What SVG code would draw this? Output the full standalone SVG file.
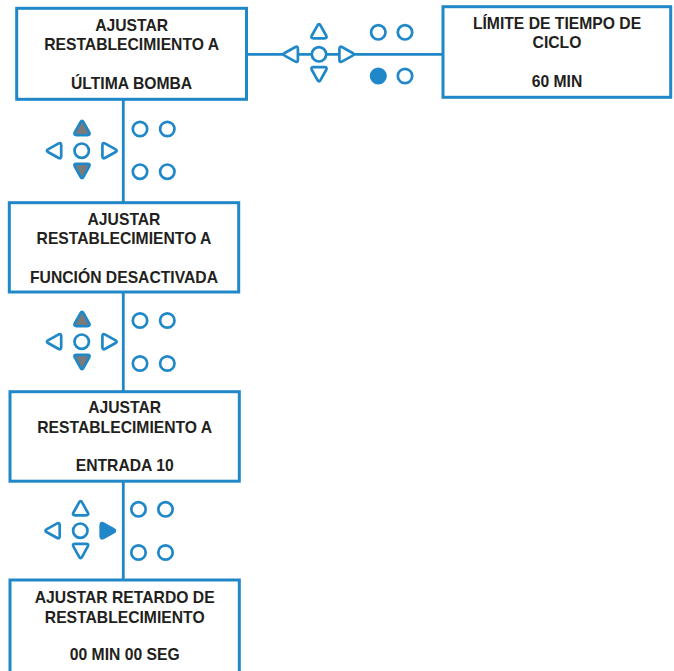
<svg xmlns="http://www.w3.org/2000/svg" xmlns:xlink="http://www.w3.org/1999/xlink" width="674" height="671" viewBox="0 0 674 671">
<style>
.box{fill:#fff;stroke:#2088c8;stroke-width:3}
.ln{stroke:#2088c8;stroke-width:2.8;fill:none}
.k{fill:#fff;stroke:#2088c8;stroke-width:2.7}
.kg{fill:#7a7a7a;stroke:#2088c8;stroke-width:2.7}
.kb{fill:#2088c8;stroke:#2088c8;stroke-width:2.7}
text{font-family:"Liberation Sans",Arial,sans-serif;font-weight:bold;font-size:15.7px;fill:#231f20;text-anchor:middle}
</style>
<defs>
<path id="tri" d="M1.6,-4.9 L7.1,5.0 Q8.7,7.9 5.4,7.9 L-5.4,7.9 Q-8.7,7.9 -7.1,5.0 L-1.6,-4.9 Q0,-7.9 1.6,-4.9Z"/>
</defs>
<g id="connectors">
<line class="ln" x1="246" y1="54.3" x2="443" y2="54.3"/>
<line class="ln" x1="123.3" y1="99" x2="123.3" y2="203"/>
<line class="ln" x1="123.3" y1="292" x2="123.3" y2="392"/>
<line class="ln" x1="123.3" y1="481" x2="123.3" y2="580"/>
</g>
<g id="keypad-top">
<use xlink:href="#tri" class="k" transform="translate(319,30.5)"/>
<use xlink:href="#tri" class="k" transform="translate(319,75) rotate(180)"/>
<use xlink:href="#tri" class="k" transform="translate(290,54.3) rotate(-90)"/>
<use xlink:href="#tri" class="k" transform="translate(347.3,54.3) rotate(90)"/>
<circle class="k" cx="319" cy="54.3" r="7.2"/>
<circle class="k" cx="378.3" cy="32.3" r="7.2"/>
<circle class="k" cx="405" cy="32.3" r="7.2"/>
<circle class="kb" cx="378.3" cy="76" r="7.2"/>
<circle class="k" cx="405" cy="76" r="7.2"/>
</g>
<g id="keypad-1">
<use xlink:href="#tri" class="kg" transform="translate(82,127.2)"/>
<use xlink:href="#tri" class="kg" transform="translate(82,171.7) rotate(180)"/>
<use xlink:href="#tri" class="k" transform="translate(53.3,150.7) rotate(-90)"/>
<use xlink:href="#tri" class="k" transform="translate(110.3,150.7) rotate(90)"/>
<circle class="k" cx="81.7" cy="150.7" r="7.2"/>
<circle class="k" cx="140" cy="129" r="7.2"/>
<circle class="k" cx="167.3" cy="129" r="7.2"/>
<circle class="k" cx="140" cy="171.7" r="7.2"/>
<circle class="k" cx="167.3" cy="171.7" r="7.2"/>
</g>
<g id="keypad-2">
<use xlink:href="#tri" class="kg" transform="translate(82,318.2)"/>
<use xlink:href="#tri" class="kg" transform="translate(82,362.7) rotate(180)"/>
<use xlink:href="#tri" class="k" transform="translate(53.3,341.7) rotate(-90)"/>
<use xlink:href="#tri" class="k" transform="translate(110.3,341.7) rotate(90)"/>
<circle class="k" cx="81.7" cy="341.7" r="7.2"/>
<circle class="k" cx="140" cy="320.5" r="7.2"/>
<circle class="k" cx="167.3" cy="320.5" r="7.2"/>
<circle class="k" cx="140" cy="363.5" r="7.2"/>
<circle class="k" cx="167.3" cy="363.5" r="7.2"/>
</g>
<g id="keypad-3">
<use xlink:href="#tri" class="k" transform="translate(80.6,507.5)"/>
<use xlink:href="#tri" class="k" transform="translate(80.6,551.7) rotate(180)"/>
<use xlink:href="#tri" class="k" transform="translate(51.8,530.7) rotate(-90)"/>
<use xlink:href="#tri" class="kb" transform="translate(108.6,530.7) rotate(90)"/>
<circle class="k" cx="80.3" cy="530.7" r="7.2"/>
<circle class="k" cx="138.5" cy="509.3" r="7.2"/>
<circle class="k" cx="165.5" cy="509.3" r="7.2"/>
<circle class="k" cx="138.5" cy="552.5" r="7.2"/>
<circle class="k" cx="165.5" cy="552.5" r="7.2"/>
</g>
<g id="node-ultima-bomba">
<rect class="box" x="16.7" y="8.3" width="229.8" height="91"/>
<text x="131.6" y="31">AJUSTAR</text>
<text x="131.6" y="50">RESTABLECIMIENTO A</text>
<text x="131.6" y="89">ÚLTIMA BOMBA</text>
</g>
<g id="node-limite">
<rect class="box" x="443" y="6.7" width="227.7" height="90.6"/>
<text x="557" y="28.5">LÍMITE DE TIEMPO DE</text>
<text x="557" y="48">CICLO</text>
<text x="557" y="87">60 MIN</text>
</g>
<g id="node-funcion">
<rect class="box" x="9.3" y="202.7" width="229.4" height="89.3"/>
<text x="124" y="225">AJUSTAR</text>
<text x="124" y="244">RESTABLECIMIENTO A</text>
<text x="124" y="283">FUNCIÓN DESACTIVADA</text>
</g>
<g id="node-entrada">
<rect class="box" x="10" y="391.7" width="229.3" height="89.5"/>
<text x="124.7" y="413.3">AJUSTAR</text>
<text x="124.7" y="432.5">RESTABLECIMIENTO A</text>
<text x="124.7" y="470.7">ENTRADA 10</text>
</g>
<g id="node-retardo">
<rect class="box" x="10" y="580" width="229.3" height="100"/>
<text x="124.7" y="603.3">AJUSTAR RETARDO DE</text>
<text x="124.7" y="622.5">RESTABLECIMIENTO</text>
<text x="124.7" y="660">00 MIN 00 SEG</text>
</g>
</svg>
